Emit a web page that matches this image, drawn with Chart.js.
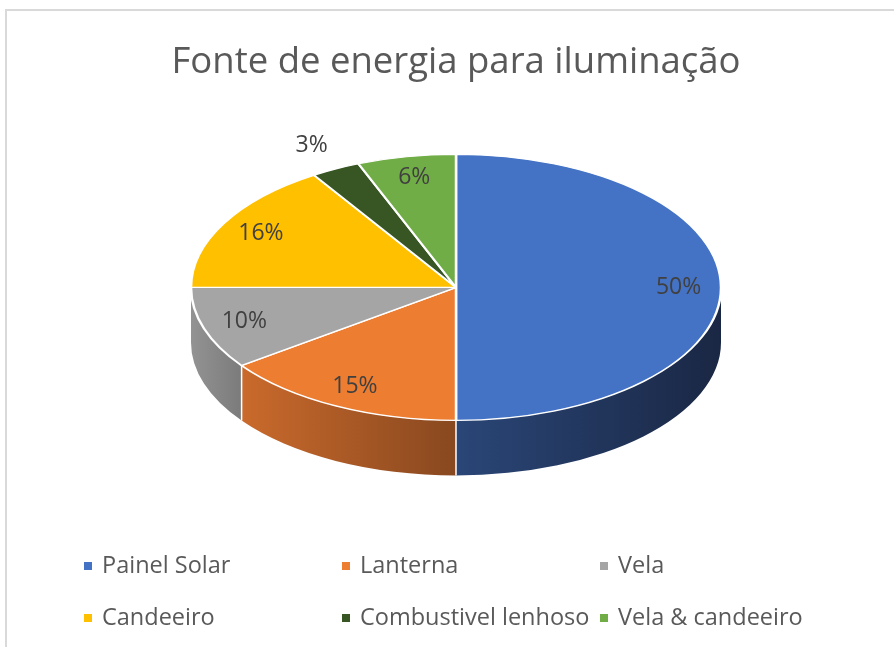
<!DOCTYPE html>
<html>
<head>
<meta charset="utf-8">
<script src="https://cdn.jsdelivr.net/npm/chart.js@4"></script>
<style>
  html, body { margin: 0; padding: 0; background: #fff; overflow: hidden; }
  #frame { position: absolute; left: 5px; top: 9px; width: 1000px; height: 1000px; border: 2px solid #d9d9d9; }
  #chart { position: absolute; left: 0; top: 0; }
</style>
</head>
<body>
<div id="frame"></div>
<canvas id="chart" width="894" height="647"></canvas>
<script>
// --- data ---
const categories = ['Painel Solar', 'Lanterna', 'Vela', 'Candeeiro', 'Combustivel lenhoso', 'Vela & candeeiro'];
const shares = [50, 15, 10, 16, 3, 6];
const chartTitle = 'Fonte de energia para iluminação';

// --- styles ---
const sliceColors = ['#4472C4', '#ED7D31', '#A5A5A5', '#FFC000', '#375623', '#70AD47'];
// side wall shading, light -> dark (left to right)
const wallColors = [
    ['#2A4677', '#1A2744'],
    ['#CA6A2C', '#88481F'],
    ['#939393', '#7B7B7B'],
    ['#C29100', '#8A6800'],
    ['#2B4319', '#1E2E12'],
    ['#578636', '#3D5F27'],
];
const FONT = "'Open Sans', sans-serif";
const RX = 265, RY = 133, DEPTH = 55;

const total = shares.reduce((a, b) => a + b, 0);

// Squashes the pie into an ellipse and extrudes the front half
const pie3d = {
    id: 'pie3d',
    beforeDatasetsDraw(chart) {
        const ctx = chart.ctx;
        const arcs = chart.getDatasetMeta(0).data;
        const cx = arcs[0].x, cy = arcs[0].y;
        ctx.save();

        arcs.forEach((arc, i) => {
            const a0 = Math.max(arc.startAngle, 0);
            const a1 = Math.min(arc.endAngle, Math.PI);
            if (a1 <= a0) return;
            const xs = [cx + RX * Math.cos(a0), cx + RX * Math.cos(a1)];
            if (a0 <= 0) xs.push(cx + RX);
            if (a1 >= Math.PI) xs.push(cx - RX);
            const g = ctx.createLinearGradient(Math.min(...xs), 0, Math.max(...xs), 0);
            g.addColorStop(0, wallColors[i][0]);
            g.addColorStop(1, wallColors[i][1]);
            ctx.beginPath();
            ctx.ellipse(cx, cy, RX, RY, 0, a0, a1);
            ctx.ellipse(cx, cy + DEPTH, RX, RY, 0, a1, a0, true);
            ctx.closePath();
            ctx.fillStyle = g;
            ctx.fill();
        });

        // white seams between visible walls
        ctx.strokeStyle = '#ffffff';
        ctx.lineWidth = 1.5;
        arcs.forEach(arc => {
            const a = arc.startAngle;
            if (a > 0 && a < Math.PI) {
                const x = cx + RX * Math.cos(a), y = cy + RY * Math.sin(a);
                ctx.beginPath();
                ctx.moveTo(x, y);
                ctx.lineTo(x, y + DEPTH);
                ctx.stroke();
            }
        });

        ctx.translate(cx, cy);
        ctx.scale(1, RY / RX);
        ctx.translate(-cx, -cy);
    },
    afterDatasetsDraw(chart) {
        const ctx = chart.ctx;
        ctx.restore();

        const arcs = chart.getDatasetMeta(0).data;
        const cx = arcs[0].x, cy = arcs[0].y;
        ctx.save();
        ctx.font = `23px ${FONT}`;
        ctx.fillStyle = '#404040';
        ctx.textAlign = 'center';
        ctx.textBaseline = 'middle';
        arcs.forEach((arc, i) => {
            const mid = (arc.startAngle + arc.endAngle) / 2;
            const f = shares[i] / total < 0.05 ? 1.2 : 0.84;
            const x = cx + Math.cos(mid) * RX * f;
            const y = cy + Math.sin(mid) * RY * f;
            ctx.fillText(Math.round(shares[i] / total * 100) + '%', x, y);
        });
        ctx.restore();
    },
    afterDraw(chart) {
        // Excel-style legend: 3 columns, 2 rows
        const ctx = chart.ctx;
        const cols = [84, 342, 600];
        const rows = [566, 618];
        ctx.save();
        ctx.font = `23.5px ${FONT}`;
        ctx.textBaseline = 'middle';
        categories.forEach((name, i) => {
            const x = cols[i % 3], y = rows[Math.floor(i / 3)];
            ctx.fillStyle = sliceColors[i];
            ctx.fillRect(x, y - 4, 8, 8);
            ctx.fillStyle = '#595959';
            ctx.fillText(name, x + 18, y);
        });
        ctx.restore();
    },
};

new Chart(document.getElementById('chart'), {
    type: 'pie',
    data: {
        labels: categories,
        datasets: [{
            data: shares,
            backgroundColor: sliceColors,
            borderColor: '#ffffff',
            borderWidth: 2.5,
            radius: RX,
        }],
    },
    options: {
        responsive: false,
        animation: false,
        layout: { padding: { left: 18, right: 0, top: 0, bottom: 157 } },
        plugins: {
            title: {
                display: true,
                text: chartTitle,
                color: '#595959',
                font: { family: FONT, size: 36.5, weight: 'normal' },
                padding: { top: 41, bottom: 0 },
            },
            legend: { display: false },
            tooltip: { enabled: false },
        },
    },
    plugins: [pie3d],
});
</script>
</body>
</html>
